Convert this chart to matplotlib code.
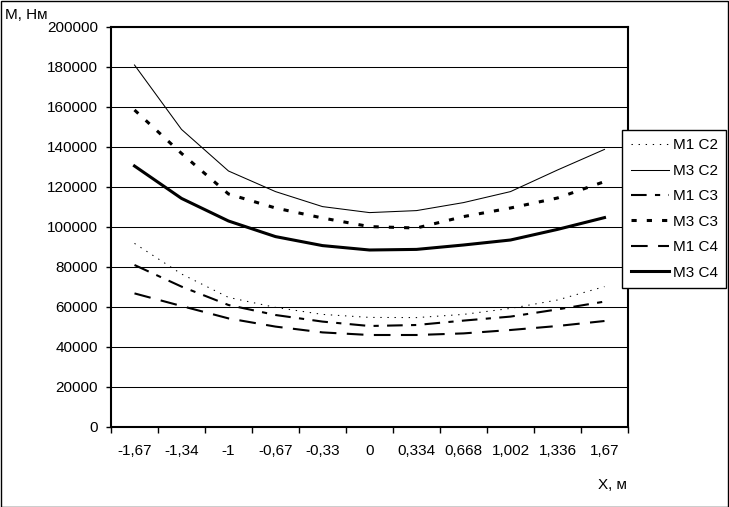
import numpy as np
import matplotlib.pyplot as plt
from matplotlib.patches import Rectangle

plt.rcParams['font.family'] = ['Liberation Sans', 'DejaVu Sans']

# Data
x_labels = ['-1,67', '-1,34', '-1', '-0,67', '-0,33', '0',
            '0,334', '0,668', '1,002', '1,336', '1,67']
m1_c2 = [91800, 76500, 64800, 59800, 56300, 54800, 54700, 56300, 59300, 63500, 70200]
m3_c2 = [181000, 148800, 128000, 117700, 110200, 107200, 108200, 112200, 117700, 128500, 138800]
m1_c3 = [81000, 70200, 61000, 56000, 52700, 50500, 51000, 53200, 55200, 58800, 62700]
m3_c3 = [158500, 136800, 116500, 109500, 104500, 100200, 99500, 105200, 109500, 114500, 122700]
m1_c4 = [66800, 60500, 54300, 50200, 47300, 46000, 46000, 46800, 48500, 50500, 53000]
m3_c4 = [130500, 114300, 103000, 95200, 90700, 88500, 88800, 91000, 93500, 98800, 104700]

W, H = 729, 507
FS = 11
fig = plt.figure(figsize=(W / 100, H / 100), dpi=100)
ax = fig.add_axes([111 / W, (H - 427) / H, (628 - 111) / W, 400 / H])

x = np.arange(len(x_labels))
ax.plot(x, m1_c2, color='black', lw=0.75, linestyle=(0, (1.3, 5.5)), label='M1 C2')
ax.plot(x, m3_c2, color='black', lw=0.75, linestyle='-', label='M3 C2')
ax.plot(x, m1_c3, color='black', lw=1.5, linestyle=(0, (7.5, 4, 2.5, 4)), label='M1 C3')
ax.plot(x, m3_c3, color='black', lw=2.2, linestyle=(0, (1.7, 3.3)), label='M3 C3')
ax.plot(x, m1_c4, color='black', lw=1.5, linestyle=(0, (8, 5)), label='M1 C4')
ax.plot(x, m3_c4, color='black', lw=2.2, linestyle='-', label='M3 C4')

ax.set_xlim(-0.5, len(x_labels) - 0.5)
ax.set_ylim(0, 200000)
ax.set_yticks(np.arange(0, 200001, 20000))
ax.yaxis.grid(True, color='black', lw=0.75)
ax.set_axisbelow(True)

# ticks between categories, labels in the middle
ax.set_xticks(np.arange(-0.5, len(x_labels)), labels=[])
ax.set_xticks(x, labels=x_labels, minor=True)
ax.tick_params(axis='x', which='major', direction='out', length=4, width=1)
ax.tick_params(axis='x', which='minor', length=0, pad=12, labelsize=FS)
ax.tick_params(axis='y', direction='out', length=3.5, width=1, pad=6, labelsize=FS)

for s in ax.spines.values():
    s.set_linewidth(1.5)
    s.set_color('black')

fig.text(5 / W, 1 - 15 / H, 'M, Нм', fontsize=FS, va='center', ha='left')
fig.text(598 / W, 1 - 485 / H, 'X, м', fontsize=FS, va='center', ha='left')

leg = ax.legend(loc='upper right', bbox_to_anchor=(726 / W, 1 - 130 / H),
                bbox_transform=fig.transFigure, fontsize=FS, frameon=True,
                fancybox=False, handlelength=2.5, handletextpad=0.25,
                labelspacing=0.75, borderpad=0.55, borderaxespad=0)
leg.get_frame().set_edgecolor('black')
leg.get_frame().set_linewidth(1)
leg.get_frame().set_alpha(1)

fig.add_artist(Rectangle((0.5 / W, 0.5 / H), (W - 1.5) / W, (H - 1.5) / H,
                         transform=fig.transFigure, fill=False, ec='black', lw=1))

fig.savefig('out.png', dpi=100)
